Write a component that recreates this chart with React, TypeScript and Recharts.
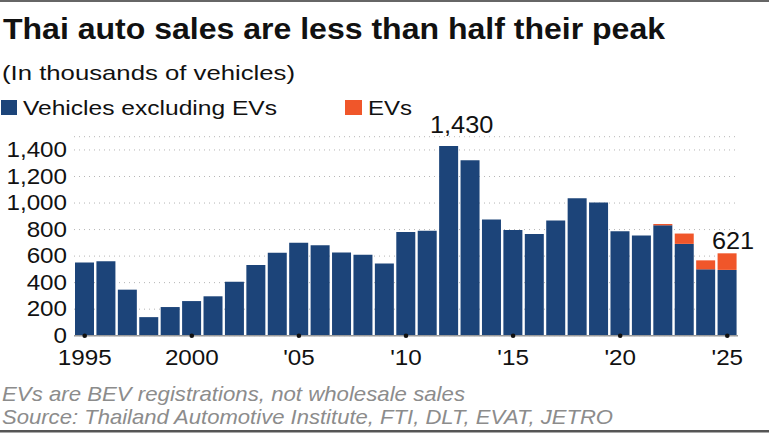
import { BarChart, Bar, XAxis, YAxis, CartesianGrid, Rectangle } from "recharts";

const years = [
  1995, 1996, 1997, 1998, 1999, 2000, 2001, 2002, 2003, 2004, 2005, 2006, 2007, 2008, 2009, 2010,
  2011, 2012, 2013, 2014, 2015, 2016, 2017, 2018, 2019, 2020, 2021, 2022, 2023, 2024, 2025,
];

// thousands of vehicles
const nonEvSales = [
  552, 562, 347, 140, 216, 261, 297, 407, 533, 626, 701, 681, 628, 611, 545, 782,
  792, 1430, 1322, 876, 796, 766, 868, 1036, 1004, 788, 756, 832, 692, 500, 496,
];

const evSales = [
  0, 0, 0, 0, 0, 0, 0, 0, 0, 0, 0, 0, 0, 0, 0, 0,
  0, 0, 0, 0, 0, 0, 0, 0, 0, 0, 0, 10, 78, 68, 125,
];

const yTicks = [0, 200, 400, 600, 800, 1000, 1200, 1400];

const xTickLabels: Record<number, string> = {
  1995: "1995",
  2000: "2000",
  2005: "'05",
  2010: "'10",
  2015: "'15",
  2020: "'20",
  2025: "'25",
};

const calloutYears = [2012, 2025];

const data = years.map((year, i) => ({
  year,
  nonEv: nonEvSales[i],
  ev: evSales[i],
  total: nonEvSales[i] + evSales[i],
}));

const FONT = "'Liberation Sans', Arial, Helvetica, sans-serif";
const BLUE = "#1c4479";
const ORANGE = "#f0562a";
const TICK_SIZE = 22;
const STRETCH = 1.1; // source type is set a little wide

function WideText({ x, y, anchor = "start", size = TICK_SIZE, children }: any) {
  return (
    <text
      transform={`translate(${x},${y}) scale(${STRETCH},1)`}
      textAnchor={anchor}
      fontSize={size}
      fill="#111"
      fontFamily={FONT}
    >
      {children}
    </text>
  );
}

function YearTick(props: any) {
  const { x, y, payload } = props;
  const label = xTickLabels[payload.value];
  if (!label) return null;
  return (
    <g>
      <circle cx={x} cy={y} r={2.3} fill="#111" />
      <WideText x={x} y={y + 29} anchor="middle">
        {label}
      </WideText>
    </g>
  );
}

function ValueTick(props: any) {
  const { x, y, payload } = props;
  return (
    <WideText x={x} y={y + 7} anchor="end">
      {Number(payload.value).toLocaleString("en-US")}
    </WideText>
  );
}

// blue segment; also carries the total callout for the highlighted years
function BaseBar(props: any) {
  const { x, y, width, height, payload } = props;
  const showCallout = calloutYears.includes(payload.year);
  // EV segment height, from the same px-per-unit as this bar
  const evPx = payload.nonEv ? (payload.ev * height) / payload.nonEv : 0;
  const top = y - evPx;
  const dx = payload.year === 2012 ? 13 : 6;
  const dy = payload.year === 2012 ? -13 : -4;
  return (
    <g>
      <Rectangle x={x} y={y} width={width} height={height} fill={BLUE} />
      {showCallout && (
        <WideText x={x + width / 2 + dx} y={top + dy} anchor="middle" size={23}>
          {Number(payload.total).toLocaleString("en-US")}
        </WideText>
      )}
    </g>
  );
}

export default function App() {
  return (
    <div style={{ position: "absolute", left: 0, top: 0, width: 769, height: 434, background: "#fff" }}>
      <svg width={769} height={434} style={{ position: "absolute", left: 0, top: 0 }}>
        <rect x={0} y={0} width={769} height={2} fill="#666" />
        <rect x={0} y={430} width={769} height={2.5} fill="#555" />
        <text x={3} y={39} fontSize={29} fontWeight="bold" fill="#111" fontFamily={FONT}
          textLength={662} lengthAdjust="spacingAndGlyphs">
          Thai auto sales are less than half their peak
        </text>
        <text x={2} y={80} fontSize={21} fill="#111" fontFamily={FONT}
          textLength={293} lengthAdjust="spacingAndGlyphs">
          (In thousands of vehicles)
        </text>
        <rect x={1} y={100} width={16} height={15} fill={BLUE} />
        <text x={23} y={115} fontSize={21} fill="#111" fontFamily={FONT}
          textLength={254} lengthAdjust="spacingAndGlyphs">
          Vehicles excluding EVs
        </text>
        <rect x={345} y={100} width={17} height={15} fill={ORANGE} />
        <text x={368} y={115} fontSize={21} fill="#111" fontFamily={FONT}
          textLength={44} lengthAdjust="spacingAndGlyphs">
          EVs
        </text>
        <text x={2} y={401} fontSize={21} fontStyle="italic" fill="#8c8c8c" fontFamily={FONT}
          textLength={463} lengthAdjust="spacingAndGlyphs">
          EVs are BEV registrations, not wholesale sales
        </text>
        <text x={2} y={424} fontSize={21} fontStyle="italic" fill="#8c8c8c" fontFamily={FONT}
          textLength={611} lengthAdjust="spacingAndGlyphs">
          Source: Thailand Automotive Institute, FTI, DLT, EVAT, JETRO
        </text>
      </svg>
      <div style={{ position: "absolute", left: 0, top: 0 }}>
        <BarChart
          width={769}
          height={434}
          data={data}
          margin={{ top: 136.7, right: 31, bottom: 68.3, left: 0 }}
          barCategoryGap={1}
        >
          <CartesianGrid vertical={false} stroke="#b5b5b5" strokeDasharray="1 4" />
          <XAxis
            dataKey="year"
            interval={0}
            height={30}
            tickLine={false}
            tickSize={0}
            tickMargin={0}
            axisLine={{ stroke: "#9a9a9a", strokeWidth: 1.5 }}
            tick={<YearTick />}
          />
          <YAxis
            width={74}
            domain={[0, 1500]}
            ticks={yTicks}
            interval={0}
            axisLine={false}
            tickLine={false}
            tickSize={0}
            tickMargin={7}
            tick={<ValueTick />}
          />
          <Bar dataKey="nonEv" stackId="a" fill={BLUE} shape={<BaseBar />} isAnimationActive={false} />
          <Bar dataKey="ev" stackId="a" fill={ORANGE} isAnimationActive={false} />
        </BarChart>
      </div>
    </div>
  );
}
